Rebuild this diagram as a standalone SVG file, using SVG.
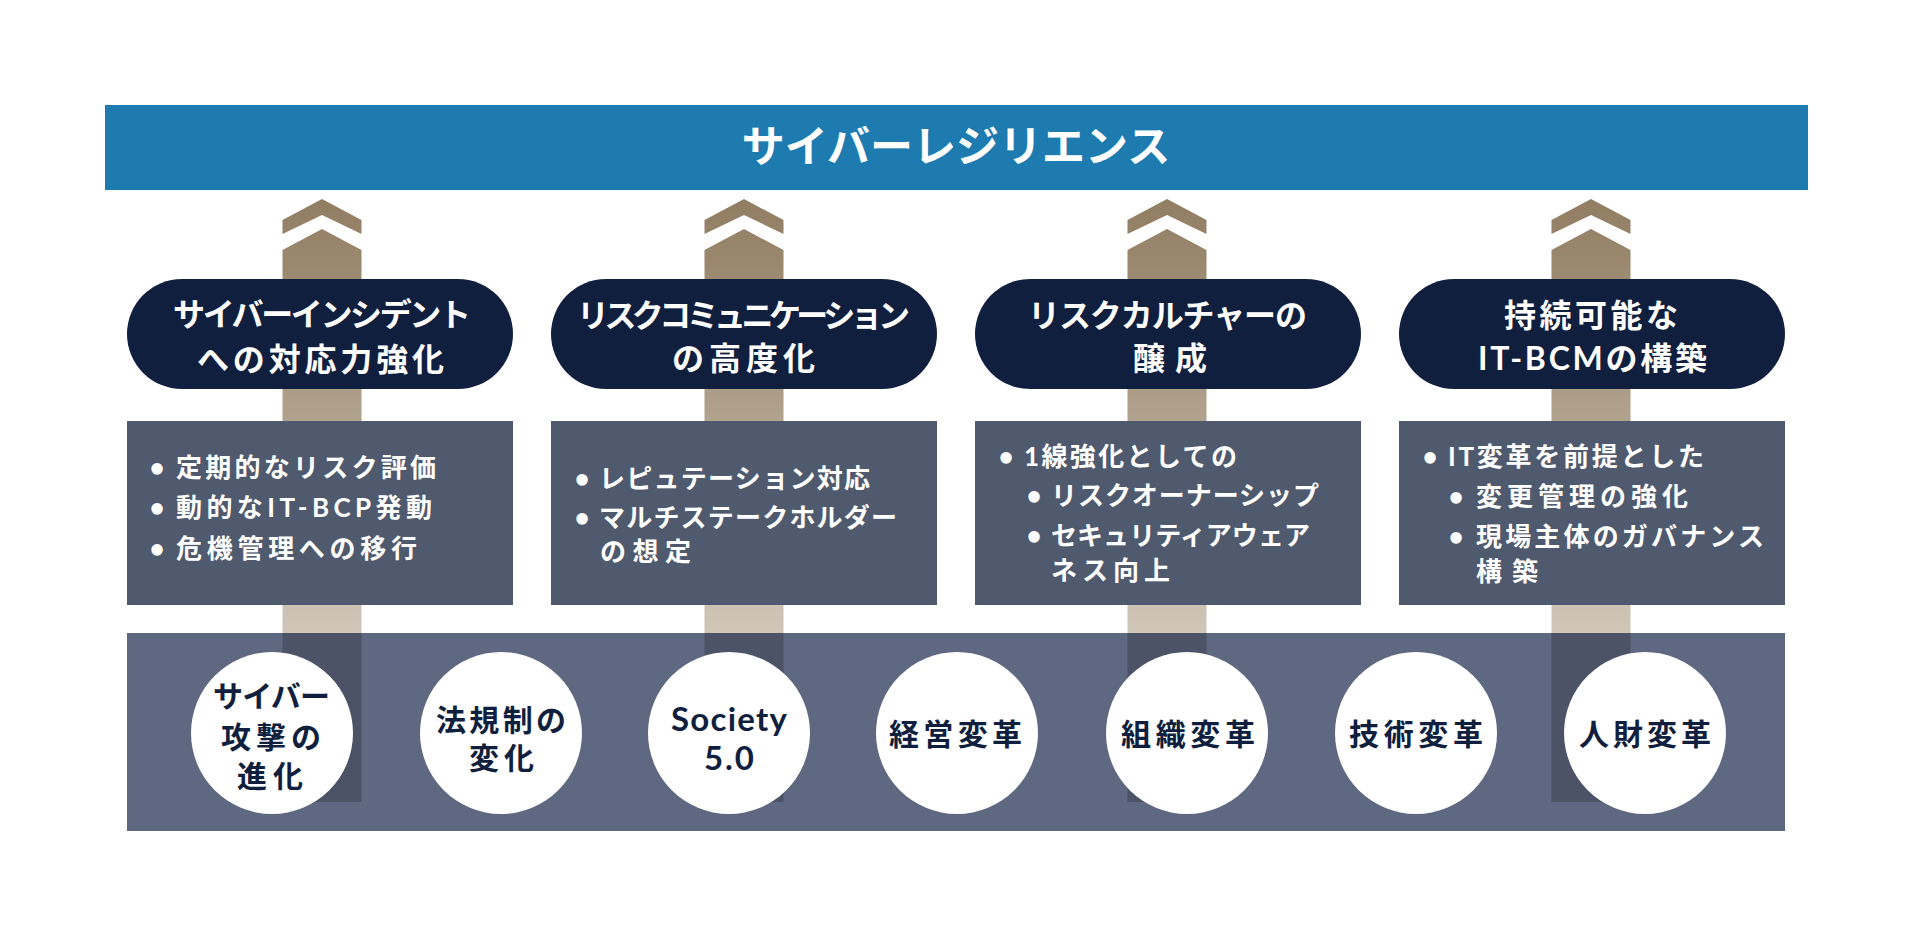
<svg xmlns="http://www.w3.org/2000/svg" width="1920" height="936" viewBox="0 0 1920 936">
<defs>
<linearGradient id="shaftGrad" gradientUnits="userSpaceOnUse" x1="0" y1="199" x2="0" y2="633">
<stop offset="0" stop-color="#917d62"/>
<stop offset="1" stop-color="#d0c6b8"/>
</linearGradient>
<g id="arrowTan">
<polygon points="-39.5,220 0,199 39.5,220 39.5,234 0,215 -39.5,234" fill="url(#shaftGrad)"/>
<polygon points="-39.5,250 0,229 39.5,250 39.5,633 -39.5,633" fill="url(#shaftGrad)"/>
</g>
<style>
.jp{font-family:Lato,"Noto Sans CJK JP","Noto Sans",sans-serif;font-weight:bold}
.title{fill:#ffffff;font-size:43px;text-anchor:middle;font-family:"Noto Sans CJK JP",sans-serif}
.pill{fill:#111f3f}
.pilltxt{fill:#ffffff;font-size:32px}
.box{fill:#4f5a6e}
.boxtxt{fill:#ffffff;font-size:26px}
.bul{fill:#ffffff;font-size:26px;text-anchor:middle}
.band{fill:#5e6880}
.dark{fill:#4c5367}
.circ{fill:#ffffff}
.circtxt{fill:#111f3f;font-size:30px}
.soc{fill:#111f3f;font-size:33px}
</style>
</defs>
<rect width="1920" height="936" fill="#ffffff"/>

<g id="banner">
<rect x="105" y="105" width="1703" height="85" fill="#1e7bb0"/>
<text class="jp title" x="956" y="162">サイバーレジリエンス</text>
</g>

<g id="connectors">
<use href="#arrowTan" transform="translate(322,0)"/>
<use href="#arrowTan" transform="translate(744,0)"/>
<use href="#arrowTan" transform="translate(1167,0)"/>
<use href="#arrowTan" transform="translate(1591,0)"/>
</g>

<g id="pill1">
<rect class="pill" x="127" y="279" width="386" height="110" rx="55" ry="55"/>
<text class="jp pilltxt" x="173" y="326" textLength="298" lengthAdjust="spacing">サイバーインシデント</text>
<text class="jp pilltxt" x="197" y="371" textLength="247" lengthAdjust="spacing">への対応力強化</text>
</g>
<g id="pill2">
<rect class="pill" x="551" y="279" width="386" height="110" rx="55" ry="55"/>
<text class="jp pilltxt" x="577" y="327" textLength="333" lengthAdjust="spacing">リスクコミュニケーション</text>
<text class="jp pilltxt" x="672" y="370" textLength="143" lengthAdjust="spacing">の高度化</text>
</g>
<g id="pill3">
<rect class="pill" x="975" y="279" width="386" height="110" rx="55" ry="55"/>
<text class="jp pilltxt" x="1028" y="327" textLength="279" lengthAdjust="spacing">リスクカルチャーの</text>
<text class="jp pilltxt" x="1133" y="370" textLength="74" lengthAdjust="spacing">醸成</text>
</g>
<g id="pill4">
<rect class="pill" x="1399" y="279" width="386" height="110" rx="55" ry="55"/>
<text class="jp pilltxt" x="1504" y="327" textLength="174" lengthAdjust="spacing">持続可能な</text>
<text class="jp pilltxt" x="1478" y="370" textLength="229" lengthAdjust="spacing">IT-BCMの構築</text>
</g>

<g id="box1">
<rect class="box" x="127" y="421" width="386" height="184"/>
<text class="jp bul" x="157" y="477">•</text><text class="jp boxtxt" x="176" y="477" textLength="260" lengthAdjust="spacing">定期的なリスク評価</text>
<text class="jp bul" x="157" y="517">•</text><text class="jp boxtxt" x="176" y="517" textLength="256" lengthAdjust="spacing">動的なIT-BCP発動</text>
<text class="jp bul" x="157" y="558">•</text><text class="jp boxtxt" x="176" y="558" textLength="241" lengthAdjust="spacing">危機管理への移行</text>
</g>
<g id="box2">
<rect class="box" x="551" y="421" width="386" height="184"/>
<text class="jp bul" x="582" y="488">•</text><text class="jp boxtxt" x="599" y="488" textLength="271" lengthAdjust="spacing">レピュテーション対応</text>
<text class="jp bul" x="582" y="527">•</text><text class="jp boxtxt" x="599" y="527" textLength="298" lengthAdjust="spacing">マルチステークホルダー</text>
<text class="jp boxtxt" x="600" y="561" textLength="91" lengthAdjust="spacing">の想定</text>
</g>
<g id="box3">
<rect class="box" x="975" y="421" width="386" height="184"/>
<text class="jp bul" x="1006" y="466">•</text><text class="jp boxtxt" x="1024" y="466" textLength="213" lengthAdjust="spacing">1線強化としての</text>
<text class="jp bul" x="1034" y="505">•</text><text class="jp boxtxt" x="1051" y="505" textLength="268" lengthAdjust="spacing">リスクオーナーシップ</text>
<text class="jp bul" x="1034" y="545">•</text><text class="jp boxtxt" x="1051" y="545" textLength="259" lengthAdjust="spacing">セキュリティアウェア</text>
<text class="jp boxtxt" x="1051" y="580" textLength="119" lengthAdjust="spacing">ネス向上</text>
</g>
<g id="box4">
<rect class="box" x="1399" y="421" width="386" height="184"/>
<text class="jp bul" x="1430" y="466">•</text><text class="jp boxtxt" x="1448" y="466" textLength="256" lengthAdjust="spacing">IT変革を前提とした</text>
<text class="jp bul" x="1456" y="506">•</text><text class="jp boxtxt" x="1476" y="506" textLength="212" lengthAdjust="spacing">変更管理の強化</text>
<text class="jp bul" x="1456" y="546">•</text><text class="jp boxtxt" x="1476" y="546" textLength="288" lengthAdjust="spacing">現場主体のガバナンス</text>
<text class="jp boxtxt" x="1476" y="581" textLength="62" lengthAdjust="spacing">構築</text>
</g>

<g id="band">
<rect class="band" x="127" y="633" width="1658" height="198"/>
<rect class="dark" x="282.5" y="633" width="79" height="169"/>
<rect class="dark" x="704.5" y="633" width="79" height="169"/>
<rect class="dark" x="1127.5" y="633" width="79" height="169"/>
<rect class="dark" x="1551.5" y="633" width="79" height="169"/>
</g>

<g id="c1">
<circle class="circ" cx="272" cy="733" r="81"/>
<text class="jp circtxt" x="213" y="707" textLength="117" lengthAdjust="spacing">サイバー</text>
<text class="jp circtxt" x="221" y="748" textLength="100" lengthAdjust="spacing">攻撃の</text>
<text class="jp circtxt" x="237" y="787" textLength="66" lengthAdjust="spacing">進化</text>
</g>
<g id="c2">
<circle class="circ" cx="501" cy="733" r="81"/>
<text class="jp circtxt" x="436" y="731" textLength="130" lengthAdjust="spacing">法規制の</text>
<text class="jp circtxt" x="469" y="769" textLength="65" lengthAdjust="spacing">変化</text>
</g>
<g id="c3">
<circle class="circ" cx="729" cy="733" r="81"/>
<text class="jp soc" x="671" y="731" textLength="116" lengthAdjust="spacing">Society</text>
<text class="jp soc" x="704" y="770" textLength="50" lengthAdjust="spacing">5.0</text>
</g>
<g id="c4">
<circle class="circ" cx="957" cy="733" r="81"/>
<text class="jp circtxt" x="889" y="745" textLength="133" lengthAdjust="spacing">経営変革</text>
</g>
<g id="c5">
<circle class="circ" cx="1187" cy="733" r="81"/>
<text class="jp circtxt" x="1121" y="745" textLength="134" lengthAdjust="spacing">組織変革</text>
</g>
<g id="c6">
<circle class="circ" cx="1416" cy="733" r="81"/>
<text class="jp circtxt" x="1349" y="745" textLength="134" lengthAdjust="spacing">技術変革</text>
</g>
<g id="c7">
<circle class="circ" cx="1645" cy="733" r="81"/>
<text class="jp circtxt" x="1579" y="745" textLength="132" lengthAdjust="spacing">人財変革</text>
</g>
</svg>
